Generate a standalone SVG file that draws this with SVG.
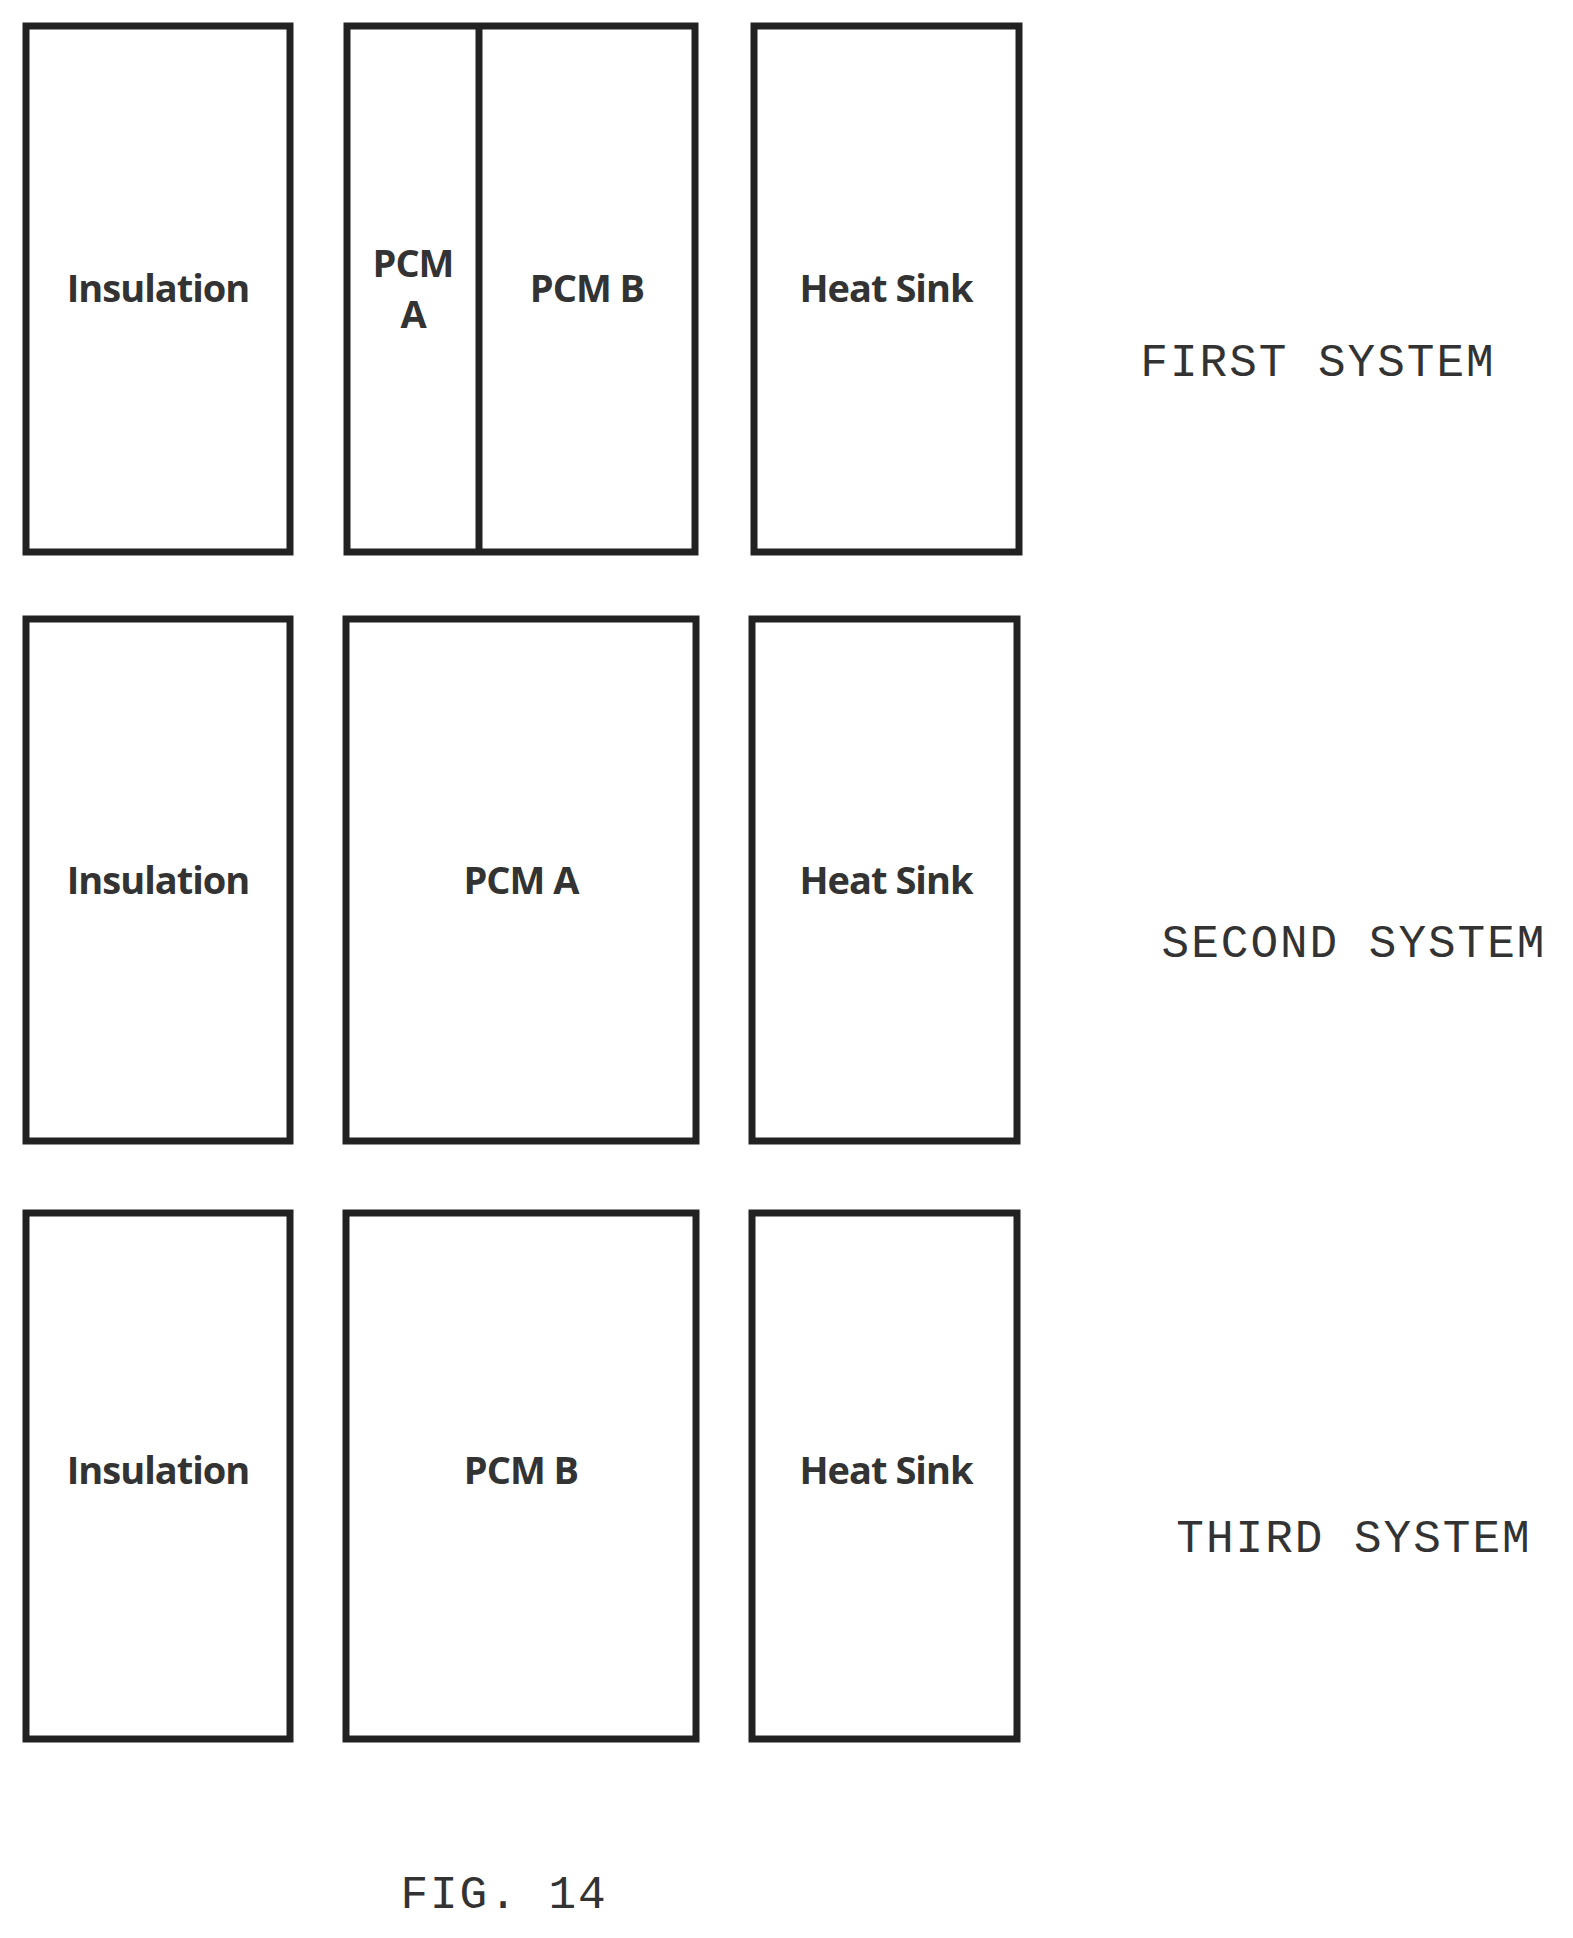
<svg xmlns="http://www.w3.org/2000/svg" width="1573" height="1938" viewBox="0 0 1573 1938">
<style>
.b{fill:#fff;stroke:#222;stroke-width:7}
.l{font-family:"Open Sans","Liberation Sans",sans-serif;font-weight:bold;font-size:38px;fill:#333;text-anchor:middle;letter-spacing:-1px}
.s{font-family:"Liberation Mono",monospace;font-size:46px;fill:#333;text-anchor:middle;letter-spacing:2px}
</style>
<rect width="1573" height="1938" fill="#fff"/>
<g id="r1-ins"><rect class="b" x="26" y="26" width="264" height="526"/><text class="l" x="158" y="302">Insulation</text></g>
<g id="r1-pcm"><rect class="b" x="347" y="26" width="348" height="526"/><line x1="479" y1="26" x2="479" y2="552" stroke="#222" stroke-width="7"/>
<text class="l" x="413" y="277" font-size="32">PCM</text><text class="l" x="413" y="328" font-size="32">A</text>
<text class="l" x="587" y="302">PCM B</text></g>
<g id="r1-hs"><rect class="b" x="754" y="26" width="265" height="526"/><text class="l" x="886" y="302">Heat Sink</text></g>
<text class="s" x="1318" y="376">FIRST SYSTEM</text>
<g id="r2-ins"><rect class="b" x="26" y="619" width="264" height="522"/><text class="l" x="158" y="894">Insulation</text></g>
<g id="r2-pcm"><rect class="b" x="346" y="619" width="350" height="522"/><text class="l" x="521" y="894">PCM A</text></g>
<g id="r2-hs"><rect class="b" x="752" y="619" width="265" height="522"/><text class="l" x="886" y="894">Heat Sink</text></g>
<text class="s" x="1354" y="957">SECOND SYSTEM</text>
<g id="r3-ins"><rect class="b" x="26" y="1213" width="264" height="526"/><text class="l" x="158" y="1484">Insulation</text></g>
<g id="r3-pcm"><rect class="b" x="346" y="1213" width="350" height="526"/><text class="l" x="521" y="1484">PCM B</text></g>
<g id="r3-hs"><rect class="b" x="752" y="1213" width="265" height="526"/><text class="l" x="886" y="1484">Heat Sink</text></g>
<text class="s" x="1354" y="1552">THIRD SYSTEM</text>
<text class="s" x="504" y="1908">FIG. 14</text>
<g id="connectors"/>
</svg>
